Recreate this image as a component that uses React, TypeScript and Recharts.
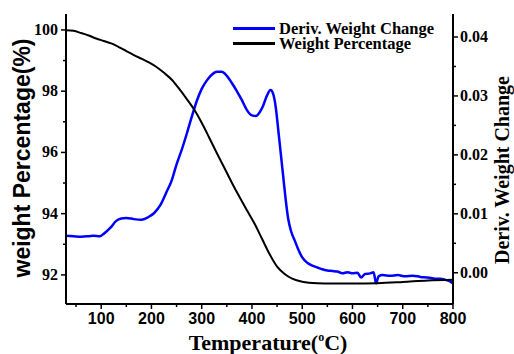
import { LineChart, Line, XAxis, YAxis, Legend } from "recharts";

// weight % curve (left axis)
const tempWeight = [
  30, 45, 60, 75, 90, 105, 120, 135, 150, 165, 180, 195, 210, 225, 240, 255,
  270, 285, 300, 315, 330, 345, 360, 375, 390, 405, 420, 435, 450, 465, 480,
  500, 530, 560, 600, 650, 700, 750, 800,
];
const weightPct = [
  99.99, 99.97, 99.9, 99.82, 99.72, 99.64, 99.56, 99.44, 99.31, 99.18, 99.06,
  98.94, 98.79, 98.6, 98.38, 98.08, 97.75, 97.4, 96.97, 96.48, 95.98, 95.5,
  95.01, 94.55, 94.11, 93.68, 93.18, 92.68, 92.27, 92.03, 91.88, 91.78, 91.73,
  91.72, 91.72, 91.73, 91.77, 91.82, 91.84,
];

// derivative curve (right axis)
const tempDeriv = [
  30, 45, 60, 75, 85, 97, 105, 118, 130, 140, 150, 165, 180, 195, 205, 218, 230,
  240, 250, 260, 270, 280, 290, 300, 310, 320, 330, 340, 350, 360, 370, 380,
  390, 400, 408, 415, 422, 430, 437, 442, 447, 452, 457, 462, 467, 472, 478,
  485, 492, 500, 510, 520, 530, 540, 550, 560, 570, 580, 590, 600, 610, 617,
  625, 635, 642, 647, 652, 660, 675, 690, 705, 720, 735, 750, 765, 775, 785,
  795, 800,
];
const derivChange = [
  0.0063, 0.0062, 0.0061, 0.0062, 0.0063, 0.0062, 0.0066, 0.0076, 0.0088,
  0.0092, 0.0093, 0.0091, 0.009, 0.0095, 0.0101, 0.0115, 0.0137, 0.0156,
  0.0184, 0.0208, 0.0235, 0.0264, 0.0291, 0.0312, 0.0326, 0.0336, 0.0341,
  0.0341, 0.0334, 0.0322, 0.0308, 0.0293, 0.0276, 0.0267, 0.0266, 0.0272,
  0.0283, 0.0301, 0.031, 0.0304, 0.0283, 0.0245, 0.0205, 0.0165, 0.0125,
  0.0092, 0.007, 0.0055, 0.004, 0.0026, 0.0017, 0.0012, 0.0009, 0.0006, 0.0004,
  0.0003, 0.0002, -0.0001, 0.0001, -0.0001, 0.0, -0.0008, -0.0002, -0.0001,
  0.0001, -0.0018, -0.0006, -0.0004, -0.0005, -0.0004, -0.0006, -0.0005,
  -0.0007, -0.0008, -0.001, -0.001, -0.0012, -0.0015, -0.0018,
];

const xTicks = [50, 100, 150, 200, 250, 300, 350, 400, 450, 500, 550, 600, 650, 700, 750, 800];
const leftTicks = [92, 93, 94, 95, 96, 97, 98, 99, 100];
const rightTicks = [0, 0.005, 0.01, 0.015, 0.02, 0.025, 0.03, 0.035, 0.04];

const weightData = tempWeight.map((t, i) => ({ temp: t, weight: weightPct[i] }));
const derivData = tempDeriv.map((t, i) => ({ temp: t, deriv: derivChange[i] }));

const SERIF = "'Liberation Serif', 'Times New Roman', serif";
const SANS = "'Liberation Sans', Arial, sans-serif";

const BottomTick = ({ x, y, payload }: any) => {
  const major = payload.value % 100 === 0;
  return (
    <g>
      <line x1={x} x2={x} y1={y} y2={y + (major ? 5 : 3)} stroke="#000" strokeWidth={1.5} />
      {major && (
        <text x={x} y={y + 20} textAnchor="middle" fontFamily={SANS} fontWeight="bold" fontSize={16} fill="#000">
          {payload.value}
        </text>
      )}
    </g>
  );
};

const LeftTick = ({ x, y, payload }: any) => {
  const major = payload.value % 2 === 0;
  return (
    <g>
      <line x1={x} x2={x - (major ? 5 : 3)} y1={y} y2={y} stroke="#000" strokeWidth={1.5} />
      {major && (
        <text x={x - 8} y={y + 5} textAnchor="end" fontFamily={SERIF} fontWeight="bold" fontSize={16} fill="#000">
          {payload.value}
        </text>
      )}
    </g>
  );
};

const RightTick = ({ x, y, payload }: any) => {
  const major = Math.round(payload.value * 1000) % 10 === 0;
  return (
    <g>
      <line x1={x} x2={x + (major ? 5 : 3)} y1={y} y2={y} stroke="#000" strokeWidth={1.5} />
      {major && (
        <text x={x + 7} y={y + 5} textAnchor="start" fontFamily={SERIF} fontWeight="bold" fontSize={16} fill="#000">
          {payload.value.toFixed(2)}
        </text>
      )}
    </g>
  );
};

const XTitle = () => (
  <text x={268} y={350} textAnchor="middle" fontFamily={SERIF} fontWeight="bold" fontSize={22} fill="#000">
    Temperature(
    <tspan dy={-9} fontSize={12}>o</tspan>
    <tspan dy={9}>C)</tspan>
  </text>
);

const LeftTitle = () => (
  <text
    x={22}
    y={158}
    transform="rotate(-90 22 158)"
    textAnchor="middle"
    dominantBaseline="central"
    fontFamily={SANS}
    fontWeight="bold"
    fontSize={23}
    fill="#000"
  >
    weight Percentage(%)
  </text>
);

const RightTitle = () => (
  <text
    x={502}
    y={170}
    transform="rotate(-90 502 170)"
    textAnchor="middle"
    dominantBaseline="central"
    fontFamily={SERIF}
    fontWeight="bold"
    fontSize={20}
    fill="#000"
  >
    Deriv. Weight Change
  </text>
);

const renderLegend = (props: any) => (
  <div style={{ fontFamily: SERIF, fontWeight: "bold", fontSize: 16.5, lineHeight: "15px" }}>
    {props.payload.map((entry: any) => (
      <div key={entry.value} style={{ display: "flex", alignItems: "center", height: 15 }}>
        <span style={{ display: "inline-block", width: 42, height: 3, background: entry.color, marginRight: 4 }} />
        <span>{entry.value}</span>
      </div>
    ))}
  </div>
);

const axisLine = { stroke: "#000", strokeWidth: 2 };

export default function App() {
  return (
    <div style={{ position: "absolute", left: 0, top: 0, background: "#fff" }}>
      <LineChart width={514} height={354} margin={{ top: 14, right: 16, bottom: 0, left: 26 }}>
        <XAxis
          dataKey="temp"
          type="number"
          domain={[30, 800]}
          allowDataOverflow
          ticks={xTicks}
          interval={0}
          tick={<BottomTick />}
          tickLine={false}
          tickSize={0}
          tickMargin={0}
          axisLine={axisLine}
          height={50}
          label={<XTitle />}
        />
        <XAxis
          xAxisId="top"
          orientation="top"
          type="number"
          domain={[30, 800]}
          height={0}
          tick={false}
          tickLine={false}
          axisLine={axisLine}
        />
        <YAxis
          yAxisId="left"
          type="number"
          domain={[91.05, 100.52]}
          allowDataOverflow
          ticks={leftTicks}
          interval={0}
          tick={<LeftTick />}
          tickLine={false}
          tickSize={0}
          tickMargin={0}
          axisLine={axisLine}
          width={40}
          label={<LeftTitle />}
        />
        <YAxis
          yAxisId="right"
          orientation="right"
          type="number"
          domain={[-0.0053, 0.0439]}
          allowDataOverflow
          ticks={rightTicks}
          interval={0}
          tick={<RightTick />}
          tickLine={false}
          tickSize={0}
          tickMargin={0}
          axisLine={axisLine}
          width={45}
          label={<RightTitle />}
        />
        <Legend
          layout="vertical"
          align="center"
          verticalAlign="middle"
          content={renderLegend}
          wrapperStyle={{ position: "absolute", left: 233, top: 20.5, width: "auto" }}
        />
        <Line
          yAxisId="right"
          data={derivData}
          dataKey="deriv"
          name="Deriv. Weight Change"
          type="monotone"
          stroke="#0000ff"
          strokeWidth={2.5}
          dot={false}
          isAnimationActive={false}
        />
        <Line
          yAxisId="left"
          data={weightData}
          dataKey="weight"
          name="Weight Percentage"
          type="monotone"
          stroke="#000"
          strokeWidth={2}
          dot={false}
          isAnimationActive={false}
        />
      </LineChart>
    </div>
  );
}
